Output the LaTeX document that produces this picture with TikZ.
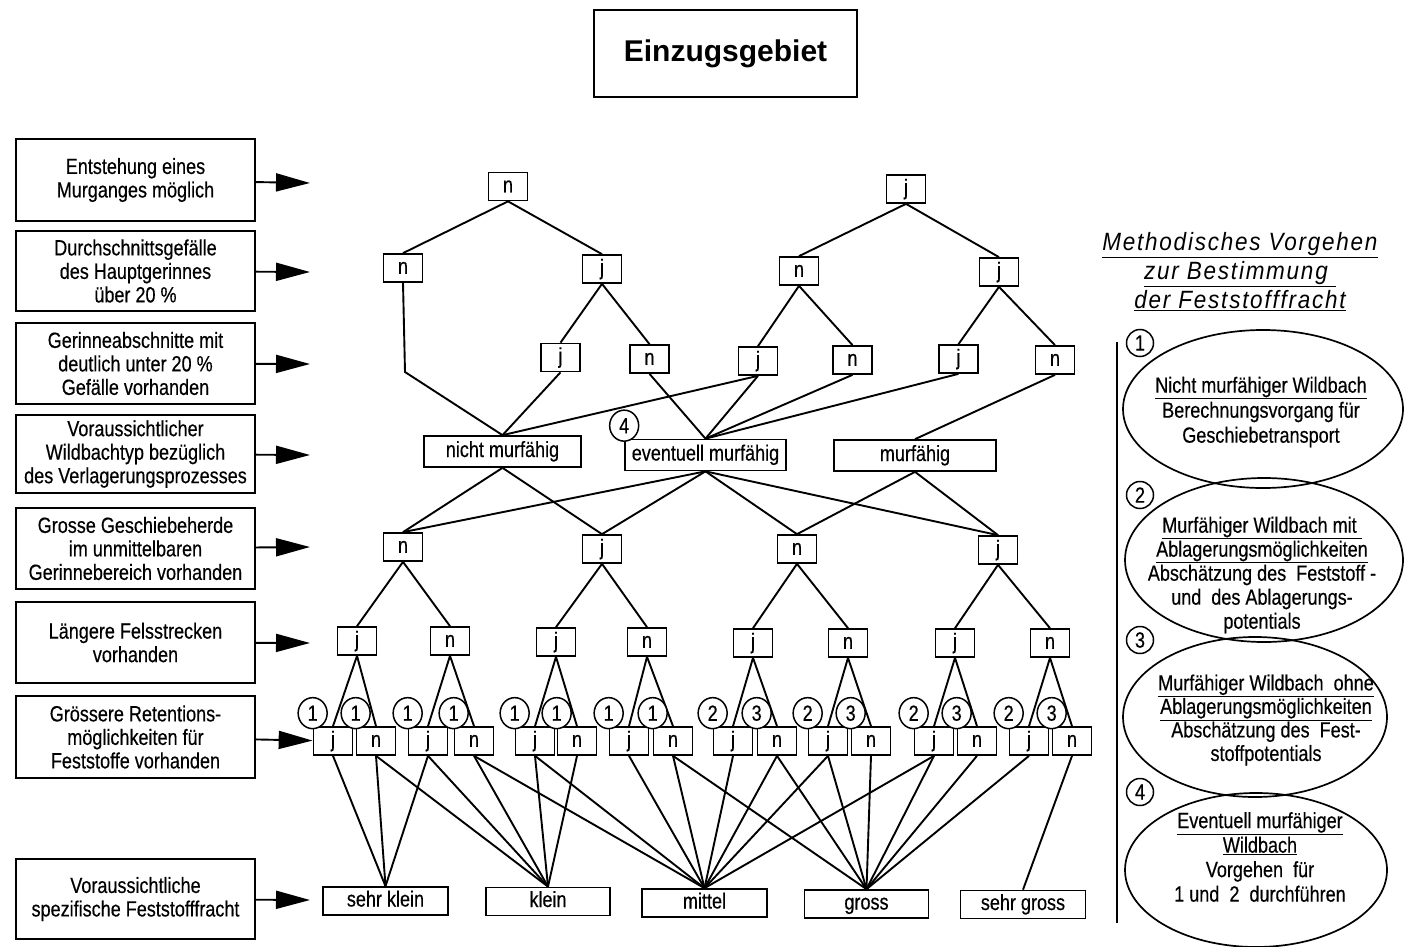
\documentclass[tikz,border=0pt]{standalone}
\usepackage{fontspec}
\setmainfont{Liberation Sans}[FakeStretch=0.82,FakeBold=0.4]
\newfontfamily\titlefont{Liberation Sans}
\newfontfamily\headfont{Liberation Sans}[LetterSpace=7,FakeStretch=0.9]
\usetikzlibrary{arrows.meta,shapes.geometric}
\begin{document}
\begin{tikzpicture}[x=1pt,y=-1pt,
  every node/.style={font=\fontsize{22}{23.5}\selectfont},
  lbl/.style={draw, line width=1.7pt, minimum width=239pt, align=center, inner sep=0pt},
  yn/.style={draw, line width=1.7pt, minimum width=39pt, minimum height=28pt, inner sep=0pt, text height=15.5pt, text depth=4pt},
  res/.style={draw, line width=1.7pt, minimum height=31pt, inner sep=0pt, text height=15.5pt, text depth=4.5pt},
  fin/.style={draw, line width=1.7pt, minimum width=124pt, minimum height=28pt, inner sep=0pt, text height=15.5pt, text depth=4.5pt},
  num/.style={ellipse, draw, fill=white, line width=1.5pt, minimum width=29pt, minimum height=31pt, inner sep=0pt},
  oval/.style={ellipse, draw, line width=1.7pt, inner sep=0pt},
  otext/.style={align=center, inner sep=0pt},
  conn/.style={line width=1.9pt},
  pointer/.style={line width=1.9pt, -{Triangle[length=34pt,width=18pt]}}]
\useasboundingbox (0,0) rectangle (1410,947);

% title
\node[draw, line width=1.7pt, minimum width=263pt, minimum height=87pt, font=\titlefont\bfseries\fontsize{30}{34}\selectfont] (title) at (725.5,53.5) {Einzugsgebiet};

% left labels
\node[lbl, minimum height=82pt] (L1) at (135.5,180) {Entstehung eines\\Murganges möglich};
\node[lbl, minimum height=80pt] (L2) at (135.5,271) {Durchschnittsgefälle\\des Hauptgerinnes\\über 20 \%};
\node[lbl, minimum height=81pt] (L3) at (135.5,363.5) {Gerinneabschnitte mit\\deutlich unter 20 \%\\Gefälle vorhanden};
\node[lbl, minimum height=78pt] (L4) at (135.5,454) {Voraussichtlicher\\Wildbachtyp bezüglich\\des Verlagerungsprozesses};
\node[lbl, minimum height=81pt] (L5) at (135.5,548.5) {Grosse Geschiebeherde\\im unmittelbaren\\Gerinnebereich vorhanden};
\node[lbl, minimum height=81pt] (L6) at (135.5,642.5) {Längere Felsstrecken\\vorhanden};
\node[lbl, minimum height=82pt] (L7) at (135.5,737) {Grössere Retentions-\\möglichkeiten für\\Feststoffe vorhanden};
\node[lbl, minimum height=80pt] (L8) at (135.5,899) {Voraussichtliche\\spezifische Feststofffracht};

\coordinate (T1) at (310,183);
\coordinate (T2) at (310,272);
\coordinate (T3) at (310,364);
\coordinate (T4) at (310,455);
\coordinate (T5) at (310,547);
\coordinate (T6) at (310,643);
\coordinate (T8) at (310,900);

% row 1
\node[yn] (A1) at (508,186.5) {n};
\node[yn] (A2) at (906,189) {j};
% row 2
\node[yn] (B1) at (403,268) {n};
\node[yn] (B2) at (602,269) {j};
\node[yn] (B3) at (799,271) {n};
\node[yn] (B4) at (999,272) {j};
% row 3
\node[yn] (C1) at (560.5,357.5) {j};
\node[yn] (C2) at (649.5,359) {n};
\node[yn] (C3) at (758,361) {j};
\node[yn] (C4) at (852.5,360) {n};
\node[yn] (C5) at (958.5,359) {j};
\node[yn] (C6) at (1055,360) {n};
% row 4
\node[res, minimum width=157pt] (D1) at (502.5,451.5) {nicht murfähig};
\node[res, minimum width=161pt] (D2) at (705.5,455) {eventuell murfähig};
\node[res, minimum width=162pt] (D3) at (915,455.5) {murfähig};
% row 5
\node[yn] (E1) at (403,547) {n};
\node[yn] (E2) at (602,549) {j};
\node[yn] (E3) at (797,549) {n};
\node[yn] (E4) at (998,550) {j};
% row 6
\node[yn] (F1) at (357,641) {j};
\node[yn] (F2) at (450,641) {n};
\node[yn] (F3) at (556,642) {j};
\node[yn] (F4) at (647,642) {n};
\node[yn] (F5) at (753,643) {j};
\node[yn] (F6) at (848,643) {n};
\node[yn] (F7) at (955,643) {j};
\node[yn] (F8) at (1050,643) {n};
% row 7
\foreach \k/\xj/\xn in {1/333/376, 2/428/474, 3/535/577, 4/629/673, 5/733/777, 6/828/871, 7/934/977, 8/1029/1072} {
  \node[yn] (j\k) at (\xj,741) {j};
  \node[yn] (n\k) at (\xn,741) {n};
}
% final row
\node[fin, minimum width=125pt] (SK) at (385.5,901) {sehr klein};
\node[fin] (KL) at (548,901.5) {klein};
\node[fin, minimum width=125pt] (MI) at (704.5,903) {mittel};
\node[fin] (GR) at (866.5,904) {gross};
\node[fin, minimum width=125pt] (SG) at (1023,904.5) {sehr gross};

% pointers
\draw[pointer] (L1) -- (T1);
\draw[pointer] (L2) -- (T2);
\draw[pointer] (L3) -- (T3);
\draw[pointer] (L4) -- (T4);
\draw[pointer] (L5) -- (T5);
\draw[pointer] (L6) -- (T6);
\draw[pointer] (L7) -- (j1);
\draw[pointer] (L8) -- (T8);

% connectors
\foreach \a/\b in {A1/B1, A1/B2, A2/B3, A2/B4, B2/C1, B2/C2, B3/C3, B3/C4, B4/C5, B4/C6,
                   C1/D1, C2/D2, C3/D1, C3/D2, C4/D2, C5/D2, C6/D3,
                   D1/E1, D1/E2, D2/E1, D2/E2, D2/E3, D2/E4, D3/E3, D3/E4,
                   E1/F1, E1/F2, E2/F3, E2/F4, E3/F5, E3/F6, E4/F7, E4/F8}
  \draw[conn] (\a.south) -- (\b.north);
\coordinate (B1bend) at (405,372);
\draw[conn] (B1.south) -- (B1bend) -- (D1.north);
\foreach \k in {1,...,8} {
  \draw[conn] (F\k.south) -- (j\k.north);
  \draw[conn] (F\k.south) -- (n\k.north);
}
\foreach \a/\b in {j1/SK, n1/SK, n1/KL, j2/SK, j2/KL, n2/KL, n2/MI, j3/KL, j3/MI, n3/KL,
                   j4/MI, n4/MI, n4/GR, j5/MI, n5/MI, n5/GR, j6/MI, j6/GR, n6/GR,
                   j7/MI, j7/GR, n7/GR, j8/GR, n8/SG}
  \draw[conn] (\a.south) -- (\b.north);

% numbered circles
\foreach \k/\p/\q in {1/1/1, 2/1/1, 3/1/1, 4/1/1, 5/2/3, 6/2/3, 7/2/3, 8/2/3} {
  \node[num] (cj\k) at ([yshift=13pt]j\k.north west) {\p};
  \node[num] (cn\k) at ([yshift=13pt]n\k.north west) {\q};
}
\node[num] (c4) at ([yshift=13pt]D2.north west) {4};

% right panel
\node[align=center, inner sep=0pt, font=\headfont\itshape\fontsize{25}{29}\selectfont] (head) at (1240,272)
  {\underline{Methodisches Vorgehen}\\\underline{zur Bestimmung\ }\\\underline{der Feststofffracht}};
\coordinate (V1) at (1117,342);
\coordinate (V2) at (1117,923);
\draw[conn] (V1) -- (V2);

\node[oval, minimum width=280pt, minimum height=158pt] (O1) at (1263,409) {};
\node[oval, minimum width=278pt, minimum height=164pt] (O2) at (1264,560) {};
\node[oval, minimum width=264pt, minimum height=160pt] (O3) at (1255,717) {};
\node[oval, minimum width=262pt, minimum height=154pt] (O4) at (1256,870) {};

\node[otext, font=\fontsize{22}{25}\selectfont] (OT1) at (1261,412)
  {\underline{Nicht murfähiger Wildbach}\\Berechnungsvorgang für\\Geschiebetransport};
\node[otext, font=\fontsize{22}{24}\selectfont] (OT2) at (1262,575)
  {\underline{Murfähiger Wildbach mit\ }\\\underline{Ablagerungsmöglichkeiten}\\Abschätzung des~~Feststoff -\\und~~des Ablagerungs-\\potentials};
\node[otext, font=\fontsize{22}{23.5}\selectfont] (OT3) at (1266,720)
  {\underline{Murfähiger Wildbach~~ohne}\\\underline{Ablagerungsmöglichkeiten}\\Abschätzung des~~Fest-\\stoffpotentials};
\node[otext, font=\fontsize{22}{24.5}\selectfont] (OT4) at (1260,857)
  {\underline{Eventuell murfähiger}\\\underline{Wildbach}\\Vorgehen~~für\\1 und~~2~~durchführen};

\node[num, minimum width=27pt, minimum height=27pt] (RC1) at (1140,343) {1};
\node[num, minimum width=27pt, minimum height=27pt] (RC2) at (1140,495) {2};
\node[num, minimum width=27pt, minimum height=27pt] (RC3) at (1140,640) {3};
\node[num, minimum width=27pt, minimum height=27pt] (RC4) at (1140,792) {4};
\end{tikzpicture}
\end{document}
